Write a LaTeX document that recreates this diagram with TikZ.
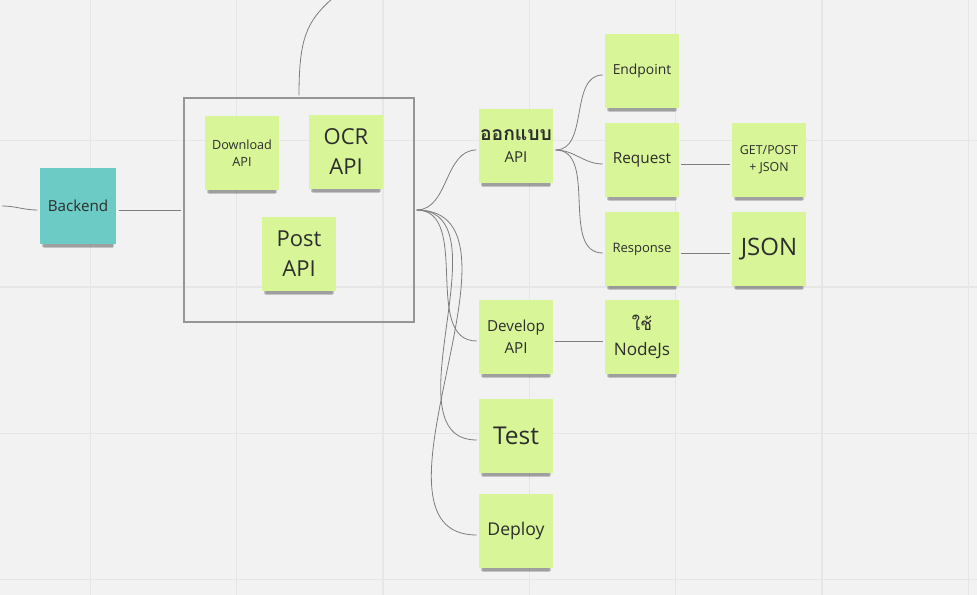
\documentclass[tikz,border=0pt]{standalone}
\usepackage{fontspec}
\setmainfont{Open Sans}
\newfontfamily\thaifont[Script=Thai]{Loma}
\usetikzlibrary{shadows}
\definecolor{bgc}{RGB}{242,242,242}
\definecolor{gridc}{RGB}{230,230,230}
\definecolor{notec}{RGB}{216,245,152}
\definecolor{tealc}{RGB}{108,203,196}
\definecolor{linec}{RGB}{125,125,125}
\definecolor{framec}{RGB}{150,150,150}
\definecolor{textc}{RGB}{45,45,45}
\newcommand{\fsz}[2]{\fontsize{#1}{#2}\selectfont}

\begin{document}
\begin{tikzpicture}[x=0.75pt, y=-0.75pt,
    note/.style={fill=notec, minimum width=55.5pt, minimum height=55.5pt,
      inner sep=1pt, align=center, text=textc,
      general shadow={fill=black, opacity=.08, shadow yshift=-6.8pt, shadow scale=.9},
      general shadow={fill=black, opacity=.12, shadow yshift=-5.6pt, shadow scale=.92},
      general shadow={fill=black, opacity=.18, shadow yshift=-4.4pt, shadow scale=.94}},
    teal note/.style={note, fill=tealc, minimum width=57.5pt, minimum height=57pt},
    frame/.style={draw=framec, line width=0.8pt, minimum width=172.5pt, minimum height=168pt},
    link/.style={draw=linec, line width=0.6pt, shorten >=1.5pt, shorten <=1.5pt},
    gridline/.style={draw=gridc, line width=1pt}]
    %背景とグリッド
    \fill[bgc] (0,0) rectangle (977,595);
    \useasboundingbox (0,0) rectangle (977,595);
    \foreach \x in {90.5,236.8,383.1,529.4,675.7,822,968.3}
      \draw[gridline] (\x,0)--(\x,595);
    \foreach \y in {140.7,287,433.3,579.6}
      \draw[gridline] (0,\y)--(977,\y);
    %付箋を置く
    \node[teal note, font=\fsz{11.4}{15}] (backend) at (78,206) {Backend};
    \node[frame] (grp) at (299,210) {};
    \node[note, font=\fsz{9.5}{12.75}] (dl) at (242,153) {Download\\API};
    \node[note, font=\fsz{16.5}{22.5}] (ocr) at (346,152) {OCR\\API};
    \node[note, font=\fsz{16.5}{22.5}] (post) at (299,254) {Post\\API};
    \node[note, font=\fsz{11.3}{16.3}] (design) at (516,146) {{\thaifont\fsz{14.5}{16.3}\bfseries ออกแบบ}\\API};
    \node[note, font=\fsz{10.4}{14}] (endpt) at (642,71) {Endpoint};
    \node[note, font=\fsz{11.5}{15}] (req) at (642,160) {Request};
    \node[note, font=\fsz{9.75}{13}] (resp) at (642,249) {Response};
    \node[note, font=\fsz{9.3}{12.75}] (getpost) at (769,160) {GET/POST\\+ JSON};
    \node[note, font=\fsz{18}{22}] (json) at (769,249) {JSON};
    \node[note, font=\fsz{11.4}{16.3}] (dev) at (516,337) {Develop\\API};
    \node[note, font=\fsz{12.9}{19}] (nodejs) at (642,337) {{\thaifont ใช้}\\NodeJs};
    \node[note, font=\fsz{18.4}{22}] (test) at (516,436) {Test};
    \node[note, font=\fsz{13.2}{16}] (deploy) at (516,531) {Deploy};
    %線の端点
    \coordinate (lft) at (0,206);
    \coordinate (up) at (333,-2);
    %つなぐ線
    \draw[link] (lft) to[out=0,in=180] ([yshift=-3pt]backend.west);
    \draw[link] ([yshift=-3pt]backend.east)--(grp.west);
    \draw[link] (grp.north) .. controls (299,40) and (306,22) .. (up);
    \foreach \n in {design,dev,test,deploy}
      \draw[link] (grp.east) to[out=0,in=180] ([yshift=-3pt]\n.west);
    \foreach \n in {endpt,req,resp}
      \draw[link] ([yshift=-3pt]design.east) to[out=0,in=180] ([yshift=-3pt]\n.west);
    \draw[link] ([yshift=-3pt]req.east)--([yshift=-3pt]getpost.west);
    \draw[link] ([yshift=-3pt]resp.east)--([yshift=-3pt]json.west);
    \draw[link] ([yshift=-3pt]dev.east)--([yshift=-3pt]nodejs.west);
\end{tikzpicture}
\end{document}
